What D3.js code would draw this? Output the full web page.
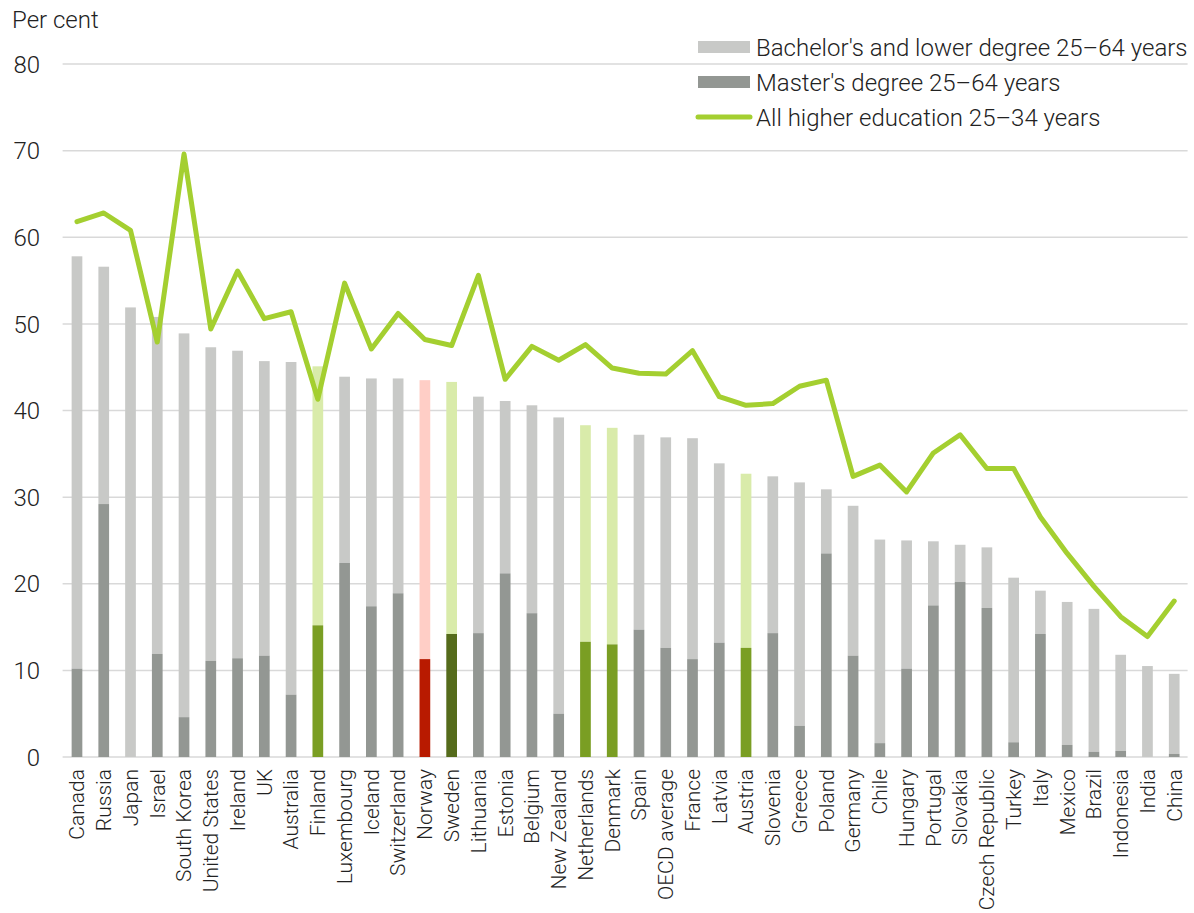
<!DOCTYPE html>
<html>
<head>
<meta charset="utf-8">
<script src="https://cdn.jsdelivr.net/npm/d3@7"></script>
<style>
  html, body { margin: 0; padding: 0; background: #fff; }
  svg { display: block; font-family: Roboto, "Noto Sans", sans-serif; font-weight: 300; }
</style>
</head>
<body>
<svg id="chart" width="1194" height="913"></svg>
<script>
// Share of population with higher education, per cent
const countries = ["Canada","Russia","Japan","Israel","South Korea","United States","Ireland","UK","Australia","Finland","Luxembourg","Iceland","Switzerland","Norway","Sweden","Lithuania","Estonia","Belgium","New Zealand","Netherlands","Denmark","Spain","OECD average","France","Latvia","Austria","Slovenia","Greece","Poland","Germany","Chile","Hungary","Portugal","Slovakia","Czech Republic","Turkey","Italy","Mexico","Brazil","Indonesia","India","China"];

// All higher education 25–64 years (total bar height)
const total2564 = [57.8,56.6,51.9,50.8,48.9,47.3,46.9,45.7,45.6,45.1,43.9,43.7,43.7,43.5,43.3,41.6,41.1,40.6,39.2,38.3,38.0,37.2,36.9,36.8,33.9,32.7,32.4,31.7,30.9,29.0,25.1,25.0,24.9,24.5,24.2,20.7,19.2,17.9,17.1,11.8,10.5,9.6];

// Master's degree 25–64 years
const master2564 = [10.2,29.2,0,11.9,4.6,11.1,11.4,11.7,7.2,15.2,22.4,17.4,18.9,11.3,14.2,14.3,21.2,16.6,5.0,13.3,13.0,14.7,12.6,11.3,13.2,12.6,14.3,3.6,23.5,11.7,1.6,10.2,17.5,20.2,17.2,1.7,14.2,1.4,0.6,0.7,0,0.35];

// All higher education 25–34 years
const all2534 = [61.8,62.8,60.8,47.9,69.6,49.4,56.1,50.6,51.4,41.3,54.7,47.1,51.2,48.2,47.5,55.6,43.6,47.4,45.8,47.6,44.9,44.3,44.2,46.9,41.6,40.6,40.8,42.8,43.5,32.4,33.7,30.6,35.1,37.2,33.3,33.3,27.7,23.5,19.7,16.2,13.9,18.0];

const yTicks = [0,10,20,30,40,50,60,70,80];

const legendLabels = ["Bachelor's and lower degree 25–64 years","Master's degree 25–64 years","All higher education 25–34 years"];

// Colour pairs [bachelor's, master's]
const palette = {
  base:   ["#c8c9c7", "#939793"],
  nordic: ["#d9ebaa", "#7a9e23"],
  norway: ["#ffcec6", "#b81a00"],
  sweden: ["#d9ebaa", "#556b1b"]
};
const highlight = {
  "Finland": "nordic", "Netherlands": "nordic", "Denmark": "nordic", "Austria": "nordic",
  "Norway": "norway", "Sweden": "sweden"
};
const lineColor = "#a4cf30";

const svg = d3.select("#chart");
const margin = { left: 63.6, right: 1187.6, top: 64, bottom: 757 };

const x = d3.scaleBand()
  .domain(countries)
  .range([margin.left, margin.right])
  .paddingInner(0.6)
  .paddingOuter(0.3);

const y = d3.scaleLinear().domain([0, 80]).range([margin.bottom, margin.top]);

// Horizontal grid
svg.append("g")
  .selectAll("line")
  .data(yTicks)
  .join("line")
  .attr("x1", margin.left - 1)
  .attr("x2", margin.right)
  .attr("y1", d => y(d))
  .attr("y2", d => y(d))
  .attr("stroke", "#d9d9d9")
  .attr("stroke-width", 1.5);

// Y tick labels
svg.append("g")
  .selectAll("text")
  .data(yTicks)
  .join("text")
  .attr("x", 40)
  .attr("y", d => y(d))
  .attr("dy", "0.36em")
  .attr("text-anchor", "end")
  .attr("font-size", 24)
  .attr("fill", "#222")
  .text(d => d);

svg.append("text")
  .attr("x", 12)
  .attr("y", 28)
  .attr("font-size", 24)
  .attr("fill", "#222")
  .text("Per cent");

const rows = countries.map((c, i) => ({
  country: c,
  total: total2564[i],
  master: master2564[i],
  colors: palette[highlight[c] || "base"]
}));

// Stacked bars: master's at bottom, bachelor's and lower above it
const bars = svg.append("g");
bars.selectAll("rect.bach")
  .data(rows)
  .join("rect")
  .attr("class", "bach")
  .attr("x", d => x(d.country))
  .attr("width", x.bandwidth())
  .attr("y", d => y(d.total))
  .attr("height", d => y(d.master) - y(d.total))
  .attr("fill", d => d.colors[0]);

bars.selectAll("rect.mast")
  .data(rows.filter(d => d.master > 0))
  .join("rect")
  .attr("class", "mast")
  .attr("x", d => x(d.country))
  .attr("width", x.bandwidth())
  .attr("y", d => y(d.master))
  .attr("height", d => y(0) - y(d.master))
  .attr("fill", d => d.colors[1]);

// Line for 25–34 year olds
const line = d3.line()
  .x((d, i) => x(countries[i]) + x.bandwidth() / 2)
  .y(d => y(d));

svg.append("path")
  .datum(all2534)
  .attr("d", line)
  .attr("fill", "none")
  .attr("stroke", lineColor)
  .attr("stroke-width", 5)
  .attr("stroke-linejoin", "round")
  .attr("stroke-linecap", "round");

// Category labels
svg.append("g")
  .selectAll("text")
  .data(countries)
  .join("text")
  .attr("transform", d => `translate(${x(d) + x.bandwidth() / 2},769) rotate(-90)`)
  .attr("dy", "0.35em")
  .attr("text-anchor", "end")
  .attr("font-size", 21)
  .attr("fill", "#222")
  .text(d => d);

// Legend
const legend = svg.append("g");
const legendY = [47, 82, 117];
legend.append("rect").attr("x", 698).attr("y", legendY[0] - 6).attr("width", 52).attr("height", 12).attr("fill", palette.base[0]);
legend.append("rect").attr("x", 698).attr("y", legendY[1] - 6).attr("width", 52).attr("height", 12).attr("fill", palette.base[1]);
legend.append("line").attr("x1", 698).attr("x2", 750).attr("y1", legendY[2]).attr("y2", legendY[2])
  .attr("stroke", lineColor).attr("stroke-width", 5).attr("stroke-linecap", "round");
legend.selectAll("text")
  .data(legendLabels)
  .join("text")
  .attr("x", 756)
  .attr("y", (d, i) => legendY[i])
  .attr("dy", "0.36em")
  .attr("font-size", 24)
  .attr("fill", "#222")
  .text(d => d);
</script>
</body>
</html>
